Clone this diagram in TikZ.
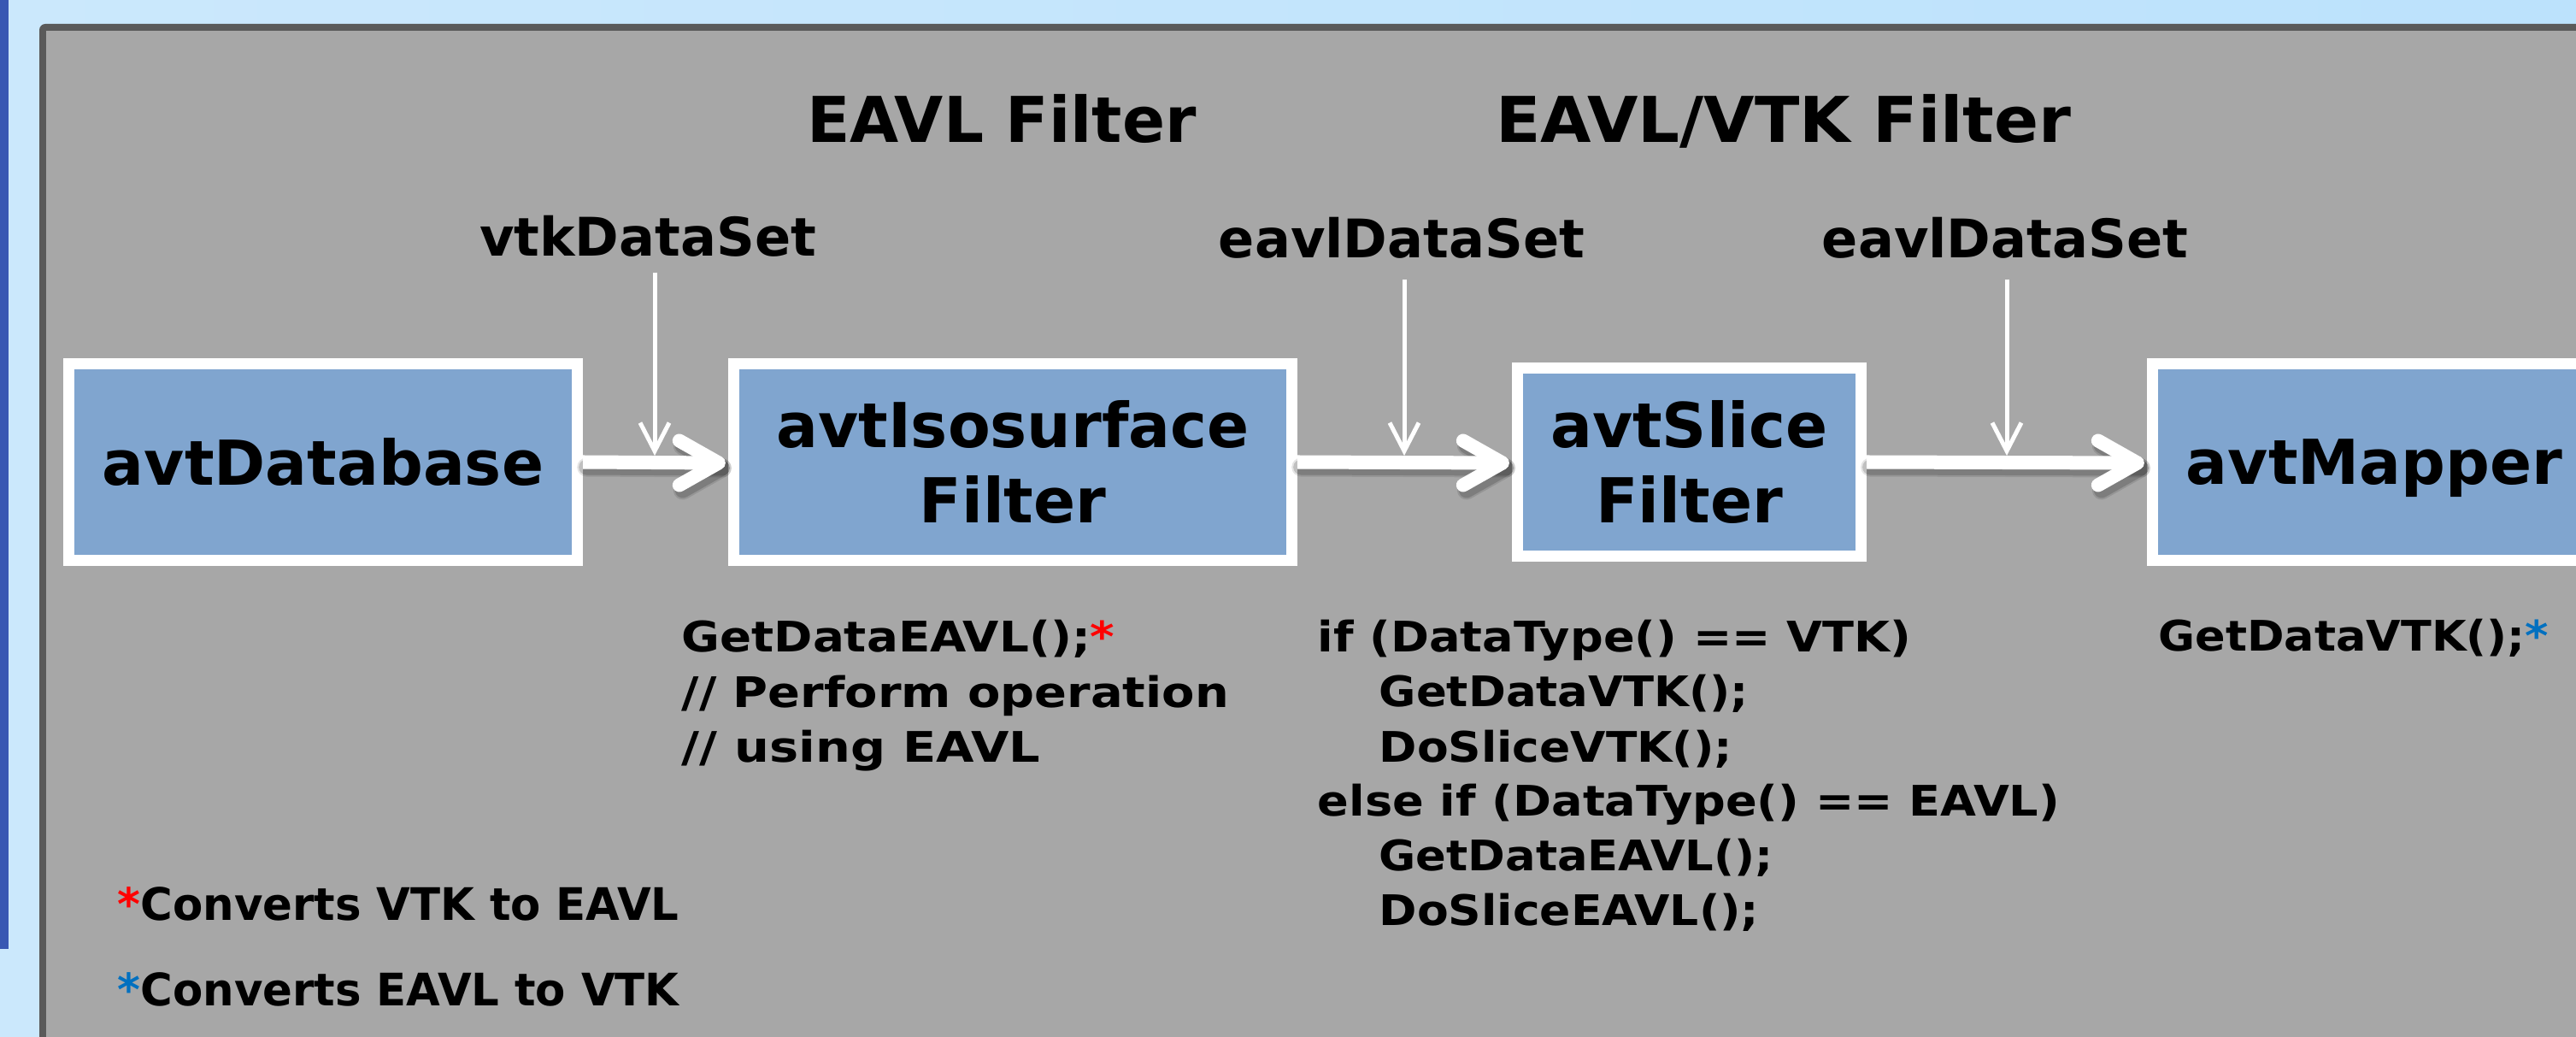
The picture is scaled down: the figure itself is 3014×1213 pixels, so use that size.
\documentclass[tikz,border=0pt]{standalone}
\usepackage{fontspec}
\setmainfont{DejaVu Sans}
\usetikzlibrary{arrows.meta,calc}

\definecolor{slidebgA}{HTML}{CBE8FC}
\definecolor{slidebgB}{HTML}{BCE2FC}
\definecolor{sidebar}{HTML}{3858B3}
\definecolor{panelrim}{HTML}{5A5A5A}
\definecolor{panelgrey}{HTML}{A7A7A7}
\definecolor{boxblue}{HTML}{80A5CF}
\definecolor{starred}{HTML}{FF0000}
\definecolor{starblue}{HTML}{0070C0}

\newcommand\figboxfont{\fontsize{20.6}{25.3}\selectfont\bfseries}
\newcommand\figtitlefont{\fontsize{21}{25}\selectfont\bfseries}
\newcommand\figlabelfont{\fontsize{17.7}{21}\selectfont\bfseries}
\newcommand\figcodefont{\fontsize{14}{17}\selectfont\bfseries}
\newcommand\fignotefont{\fontsize{14.9}{18}\selectfont\bfseries}

\tikzset{
  stagebox/.style={draw=white, line width=1.3mm, fill=boxblue, inner sep=0pt,
    align=center, font=\figboxfont},
  heading/.style={anchor=base, inner sep=0pt, font=\figtitlefont},
  dslabel/.style={anchor=base, inner sep=0pt, font=\figlabelfont},
  codeline/.style={anchor=base west, inner sep=0pt, font=\figcodefont},
  noteline/.style={anchor=base west, inner sep=0pt, font=\fignotefont},
  flow/.style={white, line width=1.6mm},
  flowhead/.style={white, line width=1.6mm, line cap=round, line join=round},
  flowshade/.style={black, line cap=round, line join=round},
  feed/.style={white, line width=0.5mm, -{Straight Barb[length=3.3mm,width=3.4mm]}},
}

\begin{document}
\begin{tikzpicture}[x=0.01cm, y=-0.01cm]
  \useasboundingbox (0,0) rectangle (3014,1213);
  \clip (0,0) rectangle (3014,1213);

  % slide background and side bar
  \shade[left color=slidebgA, right color=slidebgB] (0,0) rectangle (3014,1213);
  \fill[sidebar] (0,0) rectangle (10,1110);

  % grey panel with dark rim
  \fill[panelrim, rounded corners=2] (46,28) rectangle (3120,1320);
  \fill[panelgrey] (54,36) rectangle (3120,1320);

  % headings
  \node[heading] (hEAVL) at (1172,167) {EAVL Filter};
  \node[heading] (hMixed) at (2087,167) {\scalebox{1.04}[1]{EAVL/VTK Filter}};

  % pipeline stages
  \node[stagebox, minimum width=59.5mm, minimum height=23mm] (db) at (378,540.5) {avtDatabase};
  \node[stagebox, minimum width=65.3mm, minimum height=23mm] (iso) at (1185,540.5) {avtIsosurface\\Filter};
  \node[stagebox, minimum width=40.2mm, minimum height=22mm] (slice) at (1976.5,540.5) {avtSlice\\Filter};
  \node[stagebox, minimum width=51.9mm, minimum height=23mm, text depth=0pt] (mapper) at (2778,540.5) {avtMapper};

  % data set labels
  \node[dslabel] (dsVTK) at (758,300) {vtkDataSet};
  \node[dslabel] (dsEAVLa) at (1640,302) {eavlDataSet};
  \node[dslabel] (dsEAVLb) at (2346,302) {eavlDataSet};

  % arrow head points and feed junctions
  \coordinate (tipIso) at ($(iso.west)+(-11,1)$);
  \coordinate (tipSlice) at ($(slice.west)+(-11,1)$);
  \coordinate (tipMapper) at ($(mapper.west)+(-11,1)$);
  \coordinate (jVTK) at (766,533);
  \coordinate (jEAVLa) at (1643,533);
  \coordinate (jEAVLb) at (2348,533);

  % soft shadows under the flow arrows
  \begin{scope}[transform canvas={shift={(4,6)}}]
    \foreach \w/\o in {2.2mm/0.10, 1.8mm/0.16} {
      \draw[flowshade, line width=\w, opacity=\o] (db.east) -- (tipIso);
      \draw[flowshade, line width=\w, opacity=\o] ($(tipIso)+(-46,-26)$) -- (tipIso) -- ($(tipIso)+(-46,26)$);
      \draw[flowshade, line width=\w, opacity=\o] (iso.east) -- (tipSlice);
      \draw[flowshade, line width=\w, opacity=\o] ($(tipSlice)+(-46,-26)$) -- (tipSlice) -- ($(tipSlice)+(-46,26)$);
      \draw[flowshade, line width=\w, opacity=\o] (slice.east) -- (tipMapper);
      \draw[flowshade, line width=\w, opacity=\o] ($(tipMapper)+(-46,-26)$) -- (tipMapper) -- ($(tipMapper)+(-46,26)$);
    }
  \end{scope}

  % flow arrows between stages
  \draw[flow] (db.east) -- (tipIso);
  \draw[flowhead] ($(tipIso)+(-46,-26)$) -- (tipIso) -- ($(tipIso)+(-46,26)$);
  \draw[flow] (iso.east) -- (tipSlice);
  \draw[flowhead] ($(tipSlice)+(-46,-26)$) -- (tipSlice) -- ($(tipSlice)+(-46,26)$);
  \draw[flow] (slice.east) -- (tipMapper);
  \draw[flowhead] ($(tipMapper)+(-46,-26)$) -- (tipMapper) -- ($(tipMapper)+(-46,26)$);

  % data sets fed into the flow
  \draw[feed, shorten <=1.7mm] (dsVTK.south -| jVTK) -- (jVTK);
  \draw[feed, shorten <=2.3mm] (dsEAVLa.south -| jEAVLa) -- (jEAVLa);
  \draw[feed, shorten <=2.3mm] (dsEAVLb.south -| jEAVLb) -- (jEAVLb);

  % isosurface filter code
  \node[codeline] (isoA) at (797,763) {\scalebox{1.11}[1]{GetDataEAVL();\textcolor{starred}{*}}};
  \node[codeline] (isoB) at (797,828) {\scalebox{1.135}[1]{// Perform operation}};
  \node[codeline] (isoC) at (797,892) {\scalebox{1.166}[1]{// using EAVL}};

  % slice filter code
  \node[codeline] (slA) at (1541,763) {\scalebox{1.1}[1]{if (DataType() == VTK)}};
  \node[codeline] (slB) at (1613,827) {\scalebox{1.073}[1]{GetDataVTK();}};
  \node[codeline] (slC) at (1613,892) {\scalebox{1.085}[1]{DoSliceVTK();}};
  \node[codeline] (slD) at (1541,955) {\scalebox{1.1}[1]{else if (DataType() == EAVL)}};
  \node[codeline] (slE) at (1613,1018) {\scalebox{1.07}[1]{GetDataEAVL();}};
  \node[codeline] (slF) at (1613,1083) {\scalebox{1.087}[1]{DoSliceEAVL();}};

  % mapper code
  \node[codeline] (mapA) at (2525,762) {\scalebox{1.065}[1]{GetDataVTK();\textcolor{starblue}{*}}};

  % footnotes
  \node[noteline] (noteRed) at (137,1077) {\scalebox{0.98}[1]{\textcolor{starred}{*}Converts VTK to EAVL}};
  \node[noteline] (noteBlue) at (137,1176) {\scalebox{0.98}[1]{\textcolor{starblue}{*}Converts EAVL to VTK}};
\end{tikzpicture}
\end{document}
